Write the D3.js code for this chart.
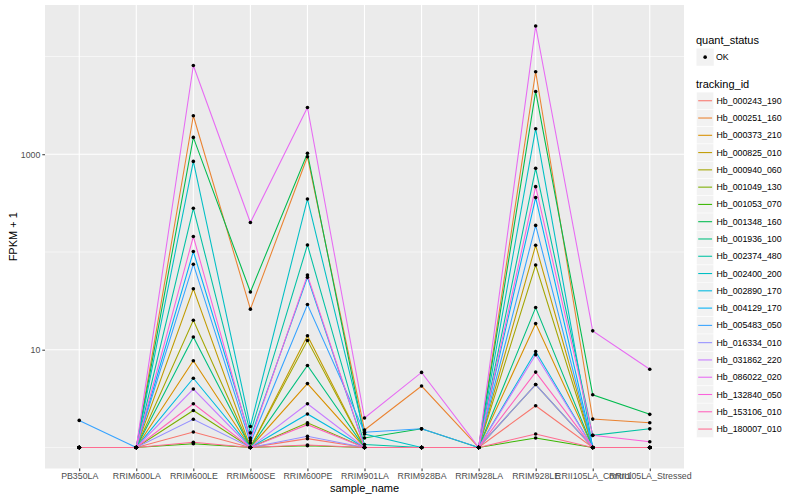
<!DOCTYPE html>
<html>
<head>
<meta charset="utf-8">
<script src="https://d3js.org/d3.v7.min.js"></script>
<style>
body { margin:0; background:#fff; }
text { font-family: "Liberation Sans", Arial, sans-serif; }
</style>
</head>
<body>
<div id="plot"></div>
<script>
var samples = ["PB350LA","RRIM600LA","RRIM600LE","RRIM600SE","RRIM600PE","RRIM901LA",
    "RRIM928BA","RRIM928LA","RRIM928LE","RRII105LA_Control","RRII105LA_Stressed"];

var trackingIds = ["Hb_000243_190","Hb_000251_160","Hb_000373_210","Hb_000825_010","Hb_000940_060",
    "Hb_001049_130","Hb_001053_070","Hb_001348_160","Hb_001936_100","Hb_002374_480",
    "Hb_002400_200","Hb_002890_170","Hb_004129_170","Hb_005483_050","Hb_016334_010",
    "Hb_031862_220","Hb_086022_020","Hb_132840_050","Hb_153106_010","Hb_180007_010"];

// FPKM per tracking id, in the order of samples
var fpkm = [
    [0, 0, 0.44, 0, 0.23, 0, 0, 0, 1.67, 0, 0],
    [0, 0, 2476, 25, 941, 0.51, 3.25, 0, 6980, 0.95, 0.79],
    [0, 0, 6.7, 0, 3.5, 0, 0, 0, 17.5, 0, 0],
    [0, 0, 41, 0, 12.9, 0, 0, 0, 116, 0, 0],
    [0, 0, 19, 0, 11.4, 0, 0, 0, 72.6, 0, 0],
    [0, 0, 1.39, 0, 0.79, 0, 0, 0, 3.4, 0, 0],
    [0, 0, 0.09, 0, 0.04, 0, 0, 0, 0.25, 0, 0],
    [0, 0, 1486, 38, 1023, 0.25, 0.55, 0, 4390, 2.46, 1.18],
    [0, 0, 12.5, 0, 5.9, 0, 0, 0, 26, 0, 0],
    [0, 0, 279, 0.41, 117, 0.07, 0, 0, 716, 0.33, 0.55],
    [0, 0, 844, 0.64, 347, 0.37, 0, 0, 1824, 0, 0],
    [0, 0, 4.1, 0, 1.2, 0, 0, 0, 8.6, 0, 0],
    [0, 0, 100, 0.25, 54, 0, 0, 0, 359, 0, 0],
    [0.89, 0, 74, 0.11, 28, 0.43, 0.55, 0, 186, 0, 0],
    [0, 0, 0.94, 0, 0.30, 0, 0, 0, 3.4, 0, 0],
    [0, 0, 2.96, 0, 1.8, 0, 0, 0, 7.9, 0, 0],
    [0, 0, 8090, 199, 3012, 1.0, 4.86, 0, 20490, 14.6, 5.3],
    [0, 0, 143, 0.18, 57, 0, 0, 0, 465, 0.33, 0.145],
    [0, 0, 1.8, 0, 0.71, 0, 0, 0, 4.9, 0, 0],
    [0, 0, 0.13, 0, 0.06, 0, 0, 0, 0.37, 0, 0]
];

var yTicks = [10, 1000];
var yMinor = [1, 100, 10000];
var statusLevels = ["OK"];

var palette = ["#F8766D","#EA8331","#D89000","#C09B00","#A3A500","#7CAE00","#39B600","#00BB4E",
    "#00BF7D","#00C1A3","#00BFC4","#00BAE0","#00B0F6","#35A2FF","#9590FF","#C77CFF",
    "#E76BF3","#FA62DB","#FF62BC","#FF6C91"];

var W = 800, H = 500;
var panel = {l:45, t:5, r:684, b:468.5};

var svg = d3.select('#plot').append('svg')
    .attr('width', W)
    .attr('height', H);

var series = trackingIds.map(function(id, i){
    return {id:id, color:palette[i], values: samples.map(function(s, j){
        return {sample:s, y: fpkm[i][j] + 1};
    })};
});

var scaleX = d3.scalePoint()
    .domain(samples)
    .range([panel.l, panel.r])
    .padding(0.6);

// log extent with ggplot style 5% expansion
var lo = Math.log10(d3.min(series, function(s){ return d3.min(s.values, function(d){ return d.y; }); }));
var hi = Math.log10(d3.max(series, function(s){ return d3.max(s.values, function(d){ return d.y; }); }));
var pad = (hi - lo) * 0.05;
var scaleY = d3.scaleLog()
    .domain([Math.pow(10, lo - pad), Math.pow(10, hi + pad)])
    .range([panel.b, panel.t]);

// panel
svg.append('rect')
    .attr('x', panel.l).attr('y', panel.t)
    .attr('width', panel.r - panel.l).attr('height', panel.b - panel.t)
    .attr('fill', '#EBEBEB');

svg.selectAll('.minor')
    .data(yMinor)
    .enter().append('line')
    .attr('x1', panel.l).attr('x2', panel.r)
    .attr('y1', function(d){ return scaleY(d); })
    .attr('y2', function(d){ return scaleY(d); })
    .attr('stroke', '#fff').attr('stroke-width', 0.55);

svg.selectAll('.major')
    .data(yTicks)
    .enter().append('line')
    .attr('x1', panel.l).attr('x2', panel.r)
    .attr('y1', function(d){ return scaleY(d); })
    .attr('y2', function(d){ return scaleY(d); })
    .attr('stroke', '#fff').attr('stroke-width', 1.1);

svg.selectAll('.vgrid')
    .data(samples)
    .enter().append('line')
    .attr('x1', function(d){ return scaleX(d); })
    .attr('x2', function(d){ return scaleX(d); })
    .attr('y1', panel.t).attr('y2', panel.b)
    .attr('stroke', '#fff').attr('stroke-width', 1.1);

// lines
var line = d3.line()
    .x(function(d){ return scaleX(d.sample); })
    .y(function(d){ return scaleY(d.y); });

svg.selectAll('.gene')
    .data(series)
    .enter().append('path')
    .attr('class', 'gene')
    .attr('d', function(d){ return line(d.values); })
    .attr('fill', 'none')
    .attr('stroke', function(d){ return d.color; })
    .attr('stroke-width', 1.07);

// points
var pts = [];
series.forEach(function(s){ s.values.forEach(function(v){ pts.push(v); }); });
svg.selectAll('.pt')
    .data(pts)
    .enter().append('circle')
    .attr('cx', function(d){ return scaleX(d.sample); })
    .attr('cy', function(d){ return scaleY(d.y); })
    .attr('r', 1.8)
    .attr('fill', '#000');

// axes
var axisX = svg.append('g')
    .attr('transform', 'translate(0,' + panel.b + ')')
    .call(d3.axisBottom(scaleX).tickSizeInner(2.7).tickSizeOuter(0).tickPadding(2));
var axisY = svg.append('g')
    .attr('transform', 'translate(' + panel.l + ',0)')
    .call(d3.axisLeft(scaleY).tickValues(yTicks).tickFormat(d3.format('d')).tickSizeInner(2.7).tickSizeOuter(0).tickPadding(2));

[axisX, axisY].forEach(function(a){
    a.select('.domain').remove();
    a.selectAll('line').attr('stroke', '#333');
    a.selectAll('text').attr('fill', '#4D4D4D').style('font-size', '8.8px')
        .style('font-family', '"Liberation Sans", Arial, sans-serif');
});

svg.append('text')
    .attr('x', (panel.l + panel.r) / 2).attr('y', 492)
    .attr('text-anchor', 'middle')
    .style('font-size', '11px')
    .text('sample_name');

svg.append('text')
    .attr('transform', 'translate(17,' + (panel.t + panel.b) / 2 + ') rotate(-90)')
    .attr('text-anchor', 'middle')
    .style('font-size', '11px')
    .text('FPKM + 1');

// legends
var lx = 696, key = 17.28;
var legend = svg.append('g');

legend.append('text').attr('x', lx).attr('y', 44).style('font-size', '11px').text('quant_status');
var st = legend.selectAll('.st').data(statusLevels).enter().append('g')
    .attr('transform', function(d, i){ return 'translate(' + lx + ',' + (48.5 + i * key) + ')'; });
st.append('rect').attr('x', 0.5).attr('width', key).attr('height', key).attr('fill', '#F2F2F2');
st.append('circle').attr('cx', 0.5 + key / 2).attr('cy', key / 2).attr('r', 1.8).attr('fill', '#000');
st.append('text').attr('x', 20).attr('y', key / 2).attr('dy', '0.35em')
    .style('font-size', '8.8px').text(function(d){ return d; });

legend.append('text').attr('x', lx).attr('y', 88).style('font-size', '11px').text('tracking_id');
var tk = legend.selectAll('.tk').data(series).enter().append('g')
    .attr('transform', function(d, i){ return 'translate(' + lx + ',' + (92.1 + i * key) + ')'; });
tk.append('rect').attr('x', 0.5).attr('width', key).attr('height', key).attr('fill', '#F2F2F2')
    .attr('stroke', '#fff').attr('stroke-width', 0.5);
tk.append('line').attr('x1', 2.2).attr('x2', key - 1.2)
    .attr('y1', key / 2).attr('y2', key / 2)
    .attr('stroke', function(d){ return d.color; }).attr('stroke-width', 1.07);
tk.append('text').attr('x', 20.5).attr('y', key / 2).attr('dy', '0.35em')
    .style('font-size', '8.8px').text(function(d){ return d.id; });
</script>
</body>
</html>
